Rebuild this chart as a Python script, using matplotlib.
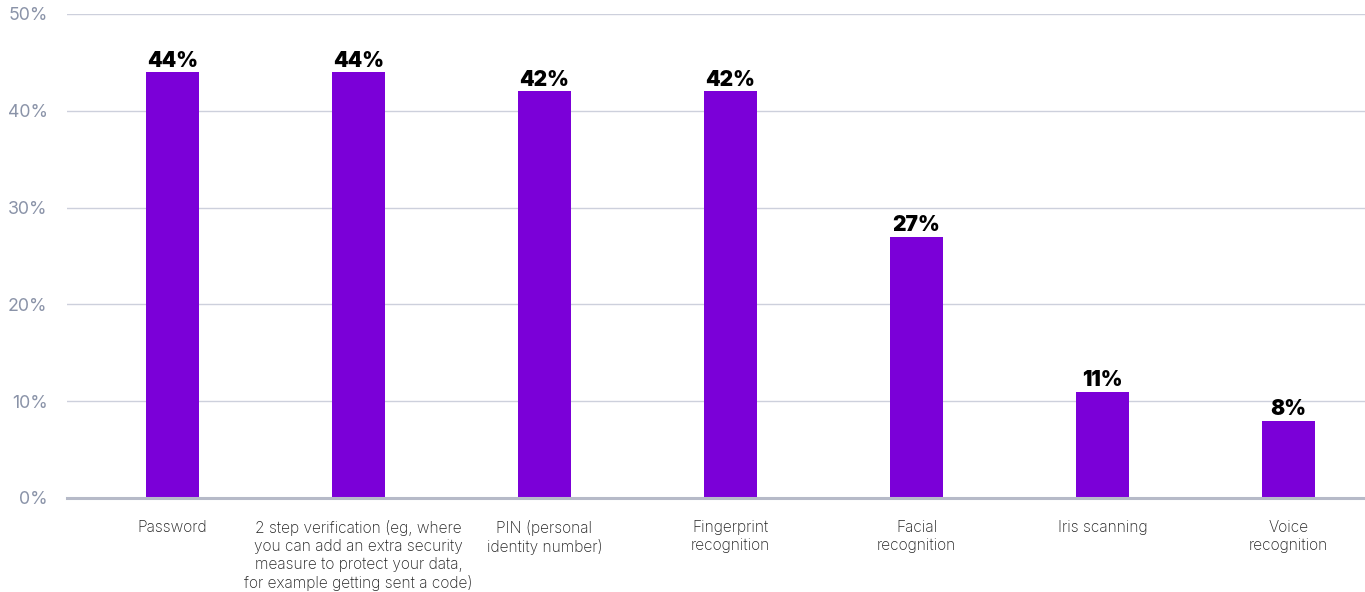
import matplotlib
matplotlib.use("Agg")
import matplotlib.pyplot as plt

categories = [
    "Password",
    "2 step verification (eg, where\nyou can add an extra security\nmeasure to protect your data,\nfor example getting sent a code)",
    "PIN (personal\nidentity number)",
    "Fingerprint\nrecognition",
    "Facial\nrecognition",
    "Iris scanning",
    "Voice\nrecognition",
]
values = [44, 44, 42, 42, 27, 11, 8]
y_ticks = [0, 10, 20, 30, 40, 50]

BAR_COLOR = "#7B00D8"
GRID_COLOR = "#CDD0DC"
BASE_COLOR = "#B6BAC8"
TICK_COLOR = "#8A93A8"

plt.rcParams["font.family"] = ["Inter", "DejaVu Sans"]

fig = plt.figure(figsize=(13.65, 5.92), dpi=100)
ax = fig.add_axes([67 / 1365, 1 - 498 / 592, 1 - 67 / 1365, (498 - 14) / 592])

x = list(range(len(categories)))
bars = ax.bar(x, values, width=0.285, color=BAR_COLOR, zorder=2)

for xi, v in zip(x, values):
    ax.annotate(f"{v}%", (xi, v), xytext=(0, 1), textcoords="offset points",
                ha="center", va="bottom", fontsize=15, fontweight="black",
                color="black")

ax.set_ylim(0, 50)
ax.set_xlim(-0.567, 6.411)
ax.set_yticks(y_ticks)
ax.set_yticklabels([f"{t}%" for t in y_ticks], fontsize=12.8, color=TICK_COLOR,
                   fontweight="normal")
ax.set_xticks(x)
ax.set_xticklabels(categories, fontsize=11.2, color="#222222", linespacing=1.25,
                   va="top", fontweight="light")

ax.grid(axis="y", color=GRID_COLOR, linewidth=1, zorder=0)
ax.set_axisbelow(True)
for side in ["top", "right", "left"]:
    ax.spines[side].set_visible(False)
ax.spines["bottom"].set_color(BASE_COLOR)
ax.spines["bottom"].set_linewidth(2.2)
ax.tick_params(axis="y", length=0, pad=14)
ax.tick_params(axis="x", length=0, pad=15.5)

fig.savefig("out.png", dpi=100)
